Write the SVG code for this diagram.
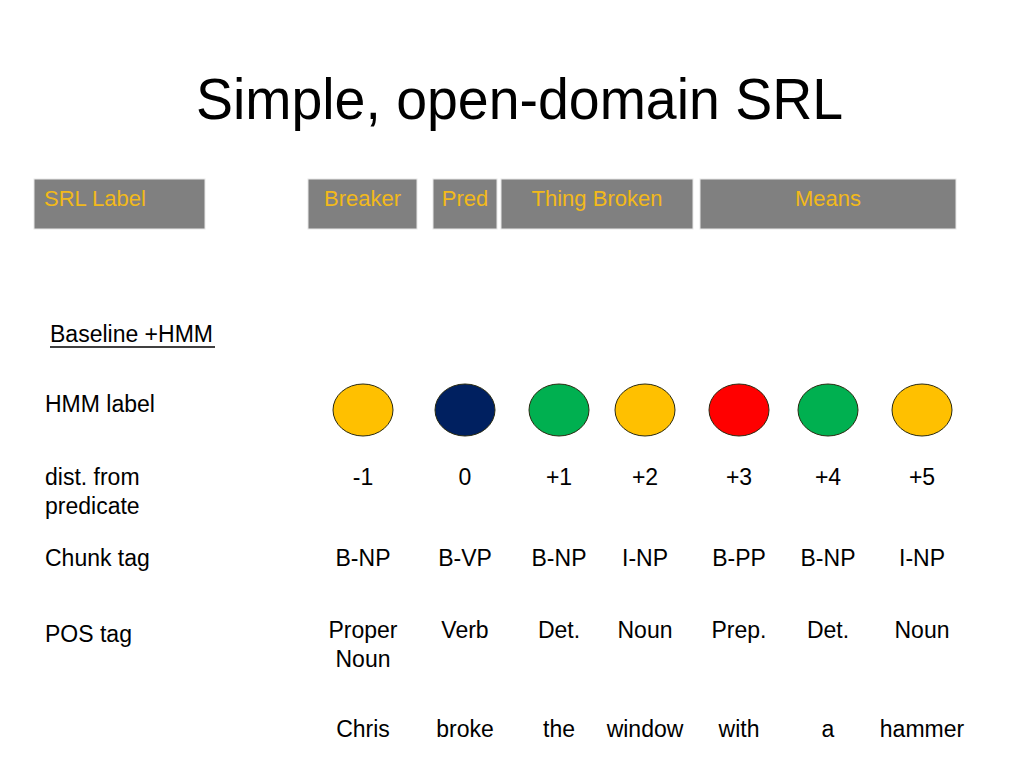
<svg xmlns="http://www.w3.org/2000/svg" width="1024" height="768" viewBox="0 0 1024 768">
<style>
text{font-family:"Liberation Sans",Arial,sans-serif;fill:#000}
.t{font-size:23px}
.c{text-anchor:middle}
.box{fill:#808080;stroke:#e8e8e8;stroke-width:1}
.bl{font-size:22px;fill:#F2B91A}
.dot{stroke:#2a2a10;stroke-width:1}
</style>
<rect width="1024" height="768" fill="#fff"/>
<text id="title" x="519.5" y="119" font-size="58" text-anchor="middle" textLength="647" lengthAdjust="spacingAndGlyphs">Simple, open-domain SRL</text>

<g id="srl-label"><rect class="box" x="34" y="179" width="171" height="50"/><text class="bl" x="44" y="206">SRL Label</text></g>
<g id="breaker"><rect class="box" x="308" y="179" width="109" height="50"/><text class="bl c" x="362.5" y="206">Breaker</text></g>
<g id="pred"><rect class="box" x="433" y="179" width="64" height="50"/><text class="bl c" x="465" y="206">Pred</text></g>
<g id="thing-broken"><rect class="box" x="501" y="179" width="192" height="50"/><text class="bl c" x="597" y="206">Thing Broken</text></g>
<g id="means"><rect class="box" x="700" y="179" width="256" height="50"/><text class="bl c" x="828" y="206">Means</text></g>

<g id="row-labels">
<text class="t" x="50" y="342">Baseline +HMM</text>
<line x1="50" y1="347" x2="215" y2="347" stroke="#000" stroke-width="1.5"/>
<text class="t" x="45" y="412">HMM label</text>
<text class="t" x="45" y="485">dist. from</text>
<text class="t" x="45" y="514">predicate</text>
<text class="t" x="45" y="566">Chunk tag</text>
<text class="t" x="45" y="642">POS tag</text>
</g>

<g id="hmm-dots">
<ellipse class="dot" cx="363" cy="410" rx="30" ry="26" fill="#FFC000"/>
<ellipse class="dot" cx="465" cy="410" rx="30" ry="26" fill="#002060"/>
<ellipse class="dot" cx="559" cy="410" rx="30" ry="26" fill="#00B050"/>
<ellipse class="dot" cx="645" cy="410" rx="30" ry="26" fill="#FFC000"/>
<ellipse class="dot" cx="739" cy="410" rx="30" ry="26" fill="#FF0000"/>
<ellipse class="dot" cx="828" cy="410" rx="30" ry="26" fill="#00B050"/>
<ellipse class="dot" cx="922" cy="410" rx="30" ry="26" fill="#FFC000"/>
</g>

<g id="dist">
<text class="t c" x="363" y="485">-1</text>
<text class="t c" x="465" y="485">0</text>
<text class="t c" x="559" y="485">+1</text>
<text class="t c" x="645" y="485">+2</text>
<text class="t c" x="739" y="485">+3</text>
<text class="t c" x="828" y="485">+4</text>
<text class="t c" x="922" y="485">+5</text>
</g>

<g id="chunk">
<text class="t c" x="363" y="566">B-NP</text>
<text class="t c" x="465" y="566">B-VP</text>
<text class="t c" x="559" y="566">B-NP</text>
<text class="t c" x="645" y="566">I-NP</text>
<text class="t c" x="739" y="566">B-PP</text>
<text class="t c" x="828" y="566">B-NP</text>
<text class="t c" x="922" y="566">I-NP</text>
</g>

<g id="pos">
<text class="t c" x="363" y="638">Proper</text>
<text class="t c" x="363" y="667">Noun</text>
<text class="t c" x="465" y="638">Verb</text>
<text class="t c" x="559" y="638">Det.</text>
<text class="t c" x="645" y="638">Noun</text>
<text class="t c" x="739" y="638">Prep.</text>
<text class="t c" x="828" y="638">Det.</text>
<text class="t c" x="922" y="638">Noun</text>
</g>

<g id="words">
<text class="t c" x="363" y="737">Chris</text>
<text class="t c" x="465" y="737">broke</text>
<text class="t c" x="559" y="737">the</text>
<text class="t c" x="645" y="737">window</text>
<text class="t c" x="739" y="737">with</text>
<text class="t c" x="828" y="737">a</text>
<text class="t c" x="922" y="737">hammer</text>
</g>
</svg>
